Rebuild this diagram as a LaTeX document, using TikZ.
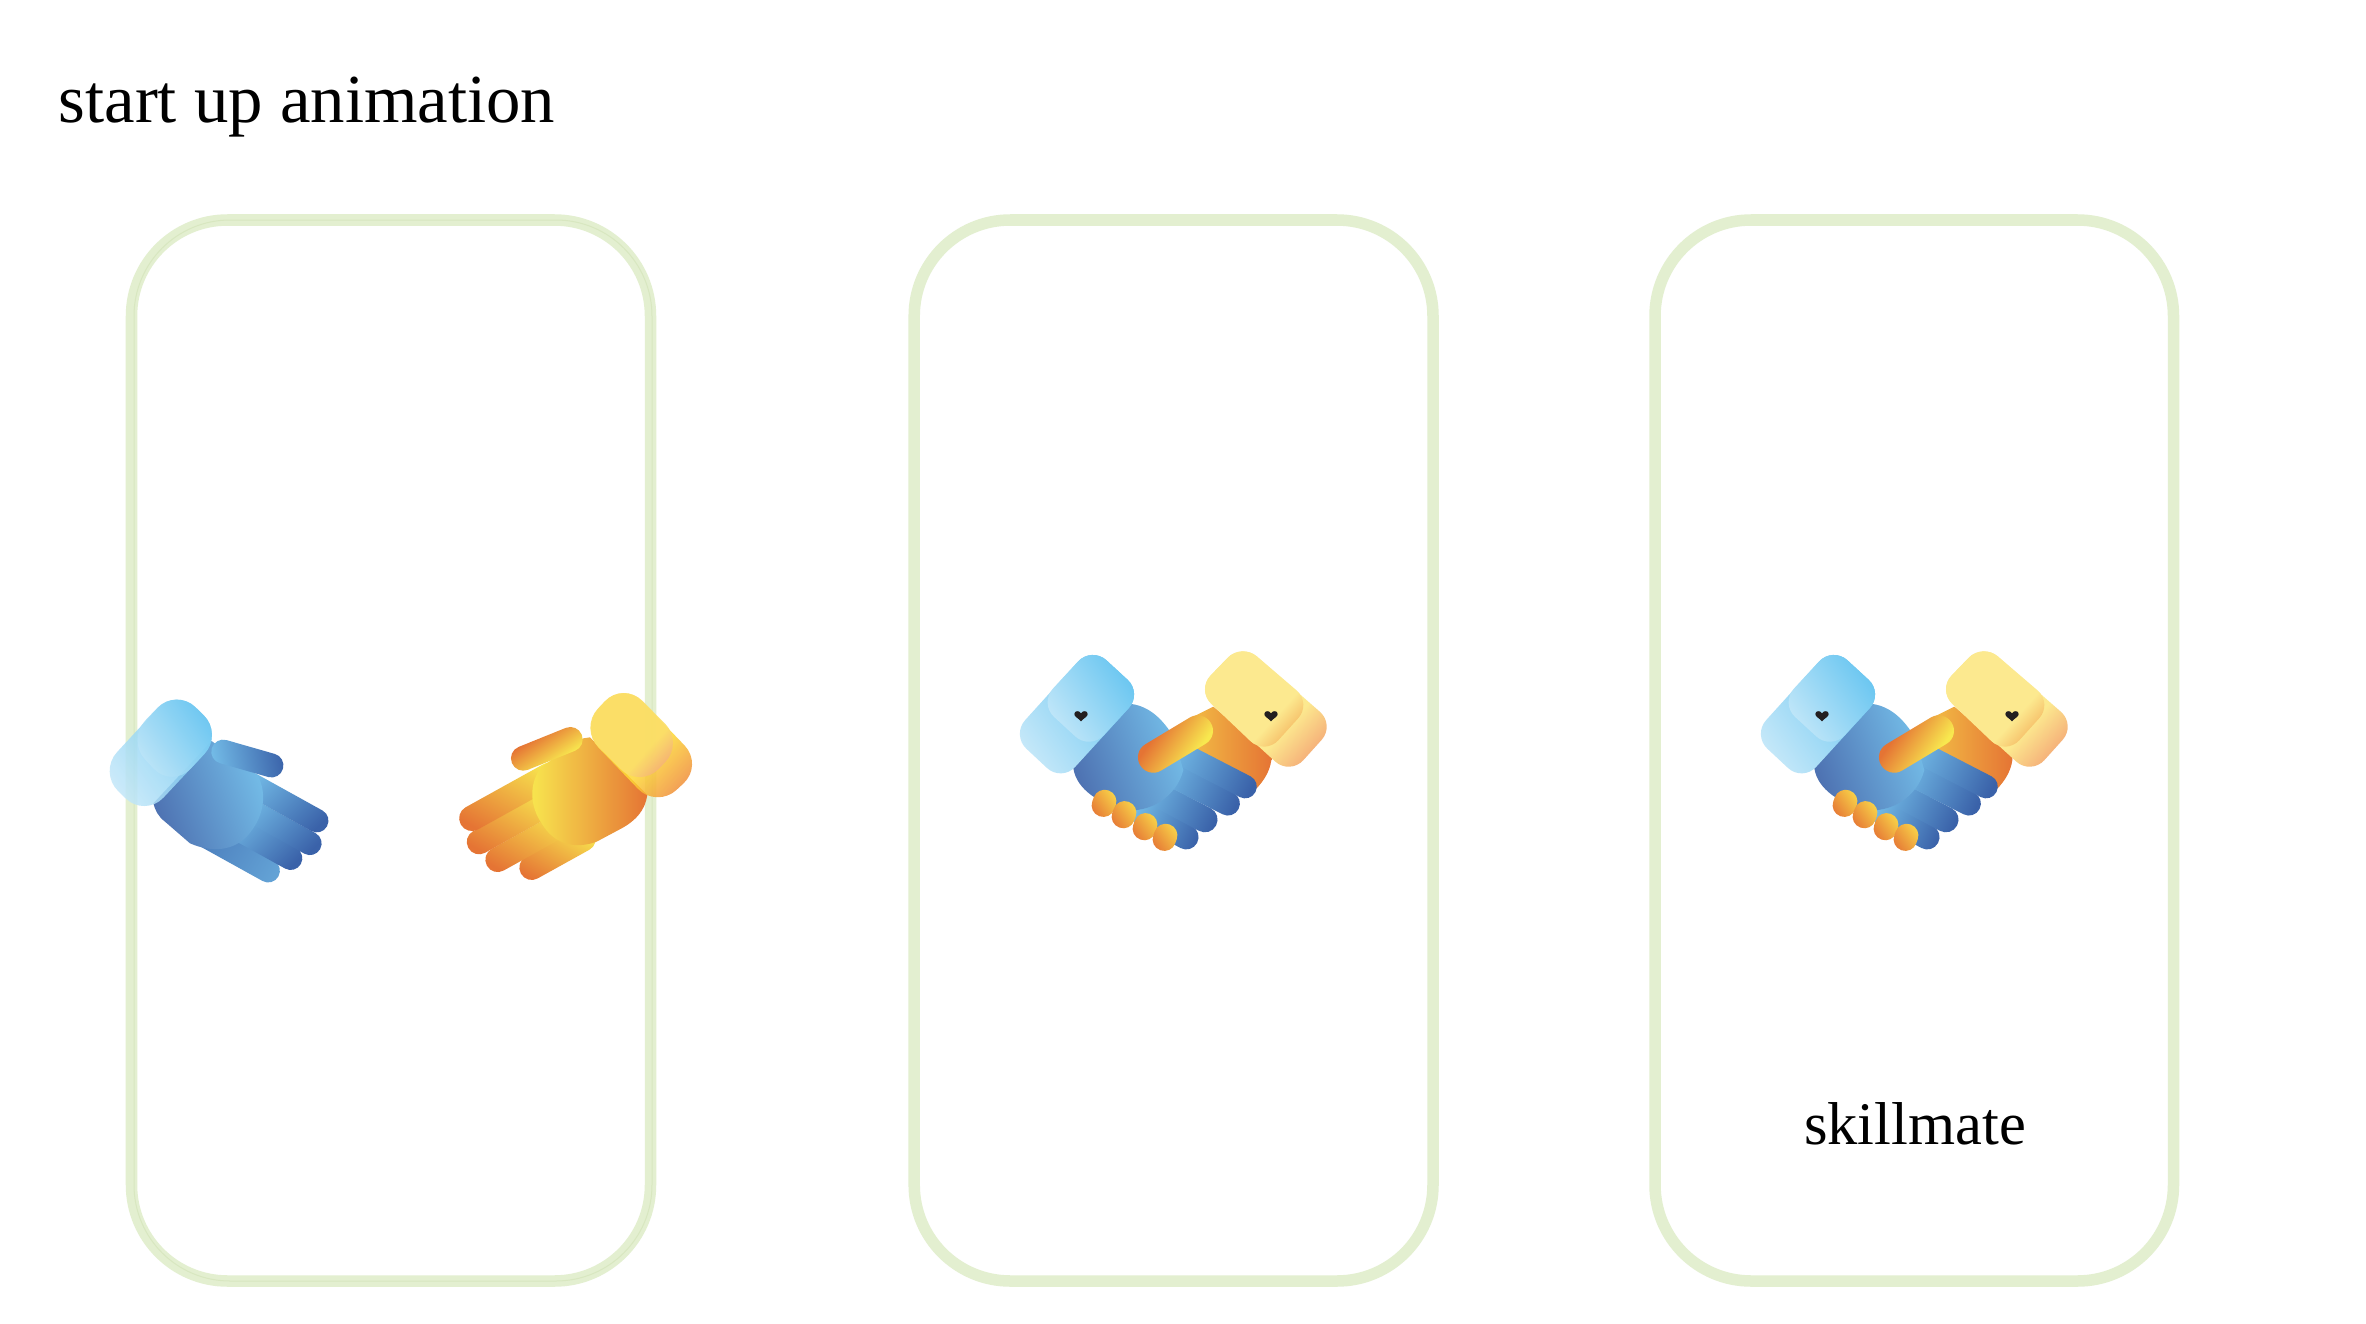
\documentclass[tikz,border=0pt]{standalone}
\usepackage{fontspec}
\setmainfont{Liberation Serif}

\definecolor{framegreen}{HTML}{E3EFD0}
\definecolor{frameline}{HTML}{D8E7C0}
\definecolor{palecyan}{HTML}{C8E9F9}
\definecolor{skycyan}{HTML}{62C3F0}
\definecolor{midblue}{HTML}{74BDE8}
\definecolor{deepblue}{HTML}{3A62A9}
\definecolor{sunyellow}{HTML}{F8E84F}
\definecolor{amberpalm}{HTML}{F2BC45}
\definecolor{burnorange}{HTML}{E57434}
\definecolor{goldcuff}{HTML}{FBDF6A}
\definecolor{brightgold}{HTML}{FDD835}
\definecolor{hotorange}{HTML}{F08A3A}
\definecolor{gripyellow}{HTML}{F9D94A}
\definecolor{palecuff}{HTML}{FCE98F}
\definecolor{peachcuff}{HTML}{F5AE78}
\definecolor{amberedge}{HTML}{F4B45F}
\definecolor{heartblack}{HTML}{231F20}

\pgfdeclarehorizontalshading{goldback}{100bp}{color(0bp)=(brightgold);color(56bp)=(brightgold);color(74bp)=(hotorange);color(100bp)=(hotorange)}
\pgfdeclarehorizontalshading{goldpocket}{100bp}{color(0bp)=(goldcuff);color(60bp)=(goldcuff);color(72bp)=(peachcuff);color(100bp)=(peachcuff)}
\pgfdeclarehorizontalshading{paleback}{100bp}{color(0bp)=(palecuff);color(60bp)=(palecuff);color(74bp)=(peachcuff);color(100bp)=(peachcuff)}
\pgfdeclarehorizontalshading{palepocket}{100bp}{color(0bp)=(palecuff);color(62bp)=(palecuff);color(74bp)=(amberedge);color(100bp)=(amberedge)}
\pgfdeclarehorizontalshading{thumbfade}{100bp}{color(0bp)=(burnorange);color(36bp)=(burnorange);color(64bp)=(sunyellow);color(100bp)=(sunyellow)}

\newcommand{\fingerbar}[5]{%
  \shade[#1,shift={(#2)},rotate=#3,rounded corners=#5*0.0033cm] (-#5,-#5) rectangle (#4,#5);}

\tikzset{
  framebox/.style={draw=framegreen,line width=0.115cm,rounded corners=0.96cm},
  caption/.style={text=black,inner sep=0pt},
  cuffround/.style={rounded corners=0.27cm},
  shakeround/.style={rounded corners=0.2cm},
  bluecuff/.style={cuffround,left color=palecyan,right color=skycyan,shading angle=125},
  bluepalm/.style={left color=deepblue!90!white,right color=midblue,shading angle=110},
  bluefinger/.style={left color=midblue,right color=deepblue,shading angle=45},
  shakefinger/.style={left color=midblue,right color=deepblue,shading angle=65},
  orangepalm/.style={left color=sunyellow,right color=burnorange,shading angle=90},
  orangefinger/.style={left color=burnorange,middle color=sunyellow!50!amberpalm,right color=sunyellow,shading angle=150},
  gripfinger/.style={left color=burnorange,right color=gripyellow,shading angle=125},
  heartmark/.pic={
    \fill[heartblack] (0,16) .. controls (-10,5) and (-20,2) .. (-20,-6) .. controls (-20,-16) and (-5,-18) .. (0,-8)
      .. controls (5,-18) and (20,-16) .. (20,-6) .. controls (20,2) and (10,5) .. (0,16) -- cycle;
  },
  handshake/.pic={
    \begin{scope}[scale=1/3]
      \shade[left color=amberpalm,right color=burnorange,shading angle=90] (540,235) -- (610,200) -- (785,345) .. controls (785,385) and (765,420) .. (735,450) -- (540,340) -- cycle;
      \fingerbar{shakefinger}{400,522}{-28.3}{183}{37}
      \fingerbar{shakefinger}{420,452}{-27.8}{224}{38}
      \fingerbar{shakefinger}{470,397}{-27}{242}{36}
      \fingerbar{shakefinger}{500,334}{-27.3}{266}{35}
      \shade[bluepalm] (190,385) -- (365,192) .. controls (420,200) and (460,240) .. (490,290) -- (520,390)
        .. controls (500,470) and (420,520) .. (340,510) .. controls (270,490) and (200,450) .. (190,385) -- cycle;
      % cuffs
      \shade[bluecuff,shakeround] (5,285) -- (245,20) -- (397,160) -- (155,425) -- cycle;
      \shade[bluecuff,shakeround] (88,190) -- (245,20) -- (397,160) -- (240,330) -- cycle;
      \shade[shakeround,shading=paleback,shading angle=-42] (695,10) -- (975,255) -- (840,405) -- (560,150) -- cycle;
      \shade[shakeround,shading=palepocket,shading angle=-42] (695,10) -- (905,190) -- (765,345) -- (560,150) -- cycle;
      % thumb and grip
      \fingerbar{shading=thumbfade,shading angle=-35}{430,352}{31}{201}{46}
      \foreach \gx/\gy in {282/490,342/524,405/560,465/592}
        \shade[gripfinger,shift={(\gx,\gy)},rotate=-20,rounded corners=0.115cm] (-35,-41) rectangle (35,41);
      \pic[scale=1/3] at (213,228) {heartmark};
      \pic[scale=1/3] at (783,228) {heartmark};
    \end{scope}
  }
}

\begin{document}
\begin{tikzpicture}[x=0.01cm,y=-0.01cm]
  \useasboundingbox[fill=white] (0,0) rectangle (2366,1324);

  \node[caption,anchor=base west,font=\fontsize{19.55}{24}\selectfont] (title) at (58,122) {start up animation};

  %% Phone frames
  \draw[framebox] (131.5,220) rectangle (650.5,1281);
  \draw[frameline,line width=0.01cm,rounded corners=0.96cm] (134,220) rectangle (652,1281);
  \draw[framebox] (914.2,220) rectangle (1433,1281);
  \draw[framebox] (1655,220) rectangle (2173.5,1281);

  %% Open blue hand
  \begin{scope}[shift={(90,660)},scale=1/3]
    \fingerbar{left color=deepblue!70!midblue,right color=midblue!70!deepblue,shading angle=60}{350,530}{-29}{246}{35}
    \fingerbar{bluefinger}{420,494}{-29}{243}{35}
    \fingerbar{bluefinger}{470,445}{-29}{252}{35}
    \fingerbar{bluefinger}{480,371}{-29}{264}{35}
    \shade[bluepalm] (190,430) -- (365,243) -- (505,350) .. controls (530,400) and (525,470) .. (470,530)
      .. controls (430,570) and (370,580) .. (300,550) -- (225,485) .. controls (205,470) and (195,450) .. (190,430) -- cycle;
    \shade[bluecuff,fill opacity=.85] (26,336) -- (258,85) -- (399,222) -- (165,472) -- cycle;
    \shade[bluecuff,fill opacity=.85] (110,240) -- (258,85) -- (399,222) -- (247,385) -- cycle;
    \fingerbar{left color=midblue,middle color=midblue,right color=deepblue,shading angle=100}{400,275}{-16}{186}{36}
  \end{scope}

  %% Open orange hand
  \begin{scope}[shift={(440,660)},scale=1/3]
    \fingerbar{orangefinger}{430,537}{-151}{214}{37}
    \fingerbar{orangefinger}{370,490}{-151}{262}{37}
    \fingerbar{orangefinger}{330,428}{-151}{280}{37}
    \fingerbar{orangefinger}{330,345}{-151}{306}{38}
    \shade[orangepalm] (450,232) -- (622,405) .. controls (615,450) and (590,480) .. (545,505) -- (470,545)
      .. controls (400,570) and (340,550) .. (305,490) .. controls (270,440) and (265,370) .. (305,320) -- (430,235) -- cycle;
    \shade[cuffround,shading=goldback,shading angle=-42,fill opacity=.85] (550,65) -- (790,315) -- (650,445) -- (420,205) -- cycle;
    \shade[cuffround,shading=goldpocket,shading angle=-42,fill opacity=.9] (550,65) -- (732,248) -- (600,385) -- (418,205) -- cycle;
    \fingerbar{shading=thumbfade,shading angle=-56}{250,295}{22}{189}{37}
  \end{scope}

  %% Handshakes
  \pic at (1010,640) {handshake};
  \pic at (1751,640) {handshake};

  \node[caption,anchor=base,font=\fontsize{17.2}{22}\selectfont] (brand) at (1915,1144) {skillmate};
\end{tikzpicture}
\end{document}
